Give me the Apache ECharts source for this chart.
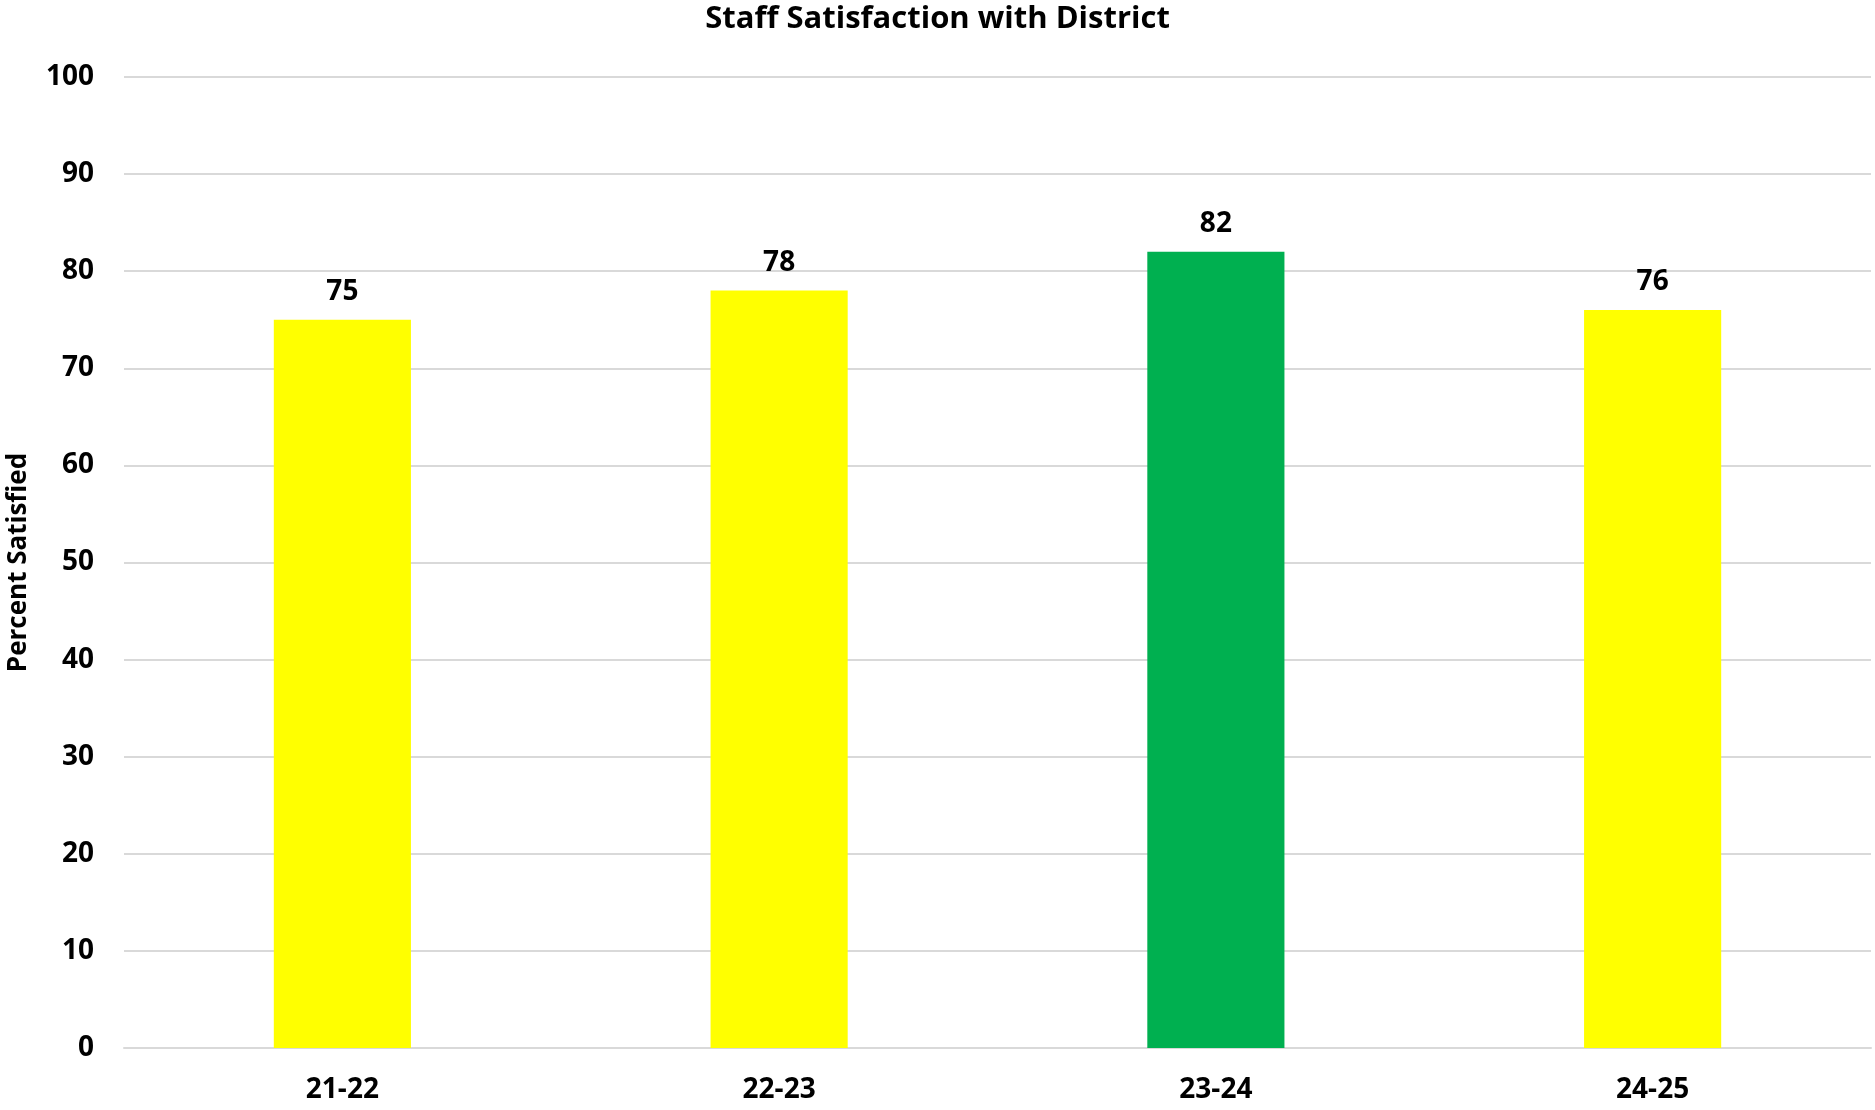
<!DOCTYPE html>
<html><head><meta charset="utf-8">
<script src="https://cdn.jsdelivr.net/npm/echarts@6/dist/echarts.min.js"></script>
<style>html,body{margin:0;padding:0;background:#fff}#c{width:1875px;height:1110px}</style>
</head><body><div id="c"></div>
<script>
const categories = ['21-22', '22-23', '23-24', '24-25'];
const values = [75, 78, 82, 76];
const barColors = ['#FFFF00', '#FFFF00', '#00B050', '#FFFF00'];
const yTicks = { min: 0, max: 100, interval: 10 };
const FONT = 'Open Sans';
const chart = echarts.init(document.getElementById('c'), null, { renderer: 'canvas' });
chart.setOption({
  animation: false,
  backgroundColor: '#fff',
  title: {
    text: 'Staff Satisfaction with District',
    left: 'center', top: -1,
    textStyle: { fontFamily: FONT, fontWeight: 'bold', fontSize: 31, color: '#000' }
  },
  grid: { left: 124, right: 4, top: 77, bottom: 62, containLabel: false, outerBoundsMode: 'none' },
  xAxis: {
    type: 'category', data: categories,
    axisLine: { show: true, lineStyle: { color: '#d9d9d9', width: 2 } },
    axisTick: { show: false },
    axisLabel: { fontFamily: FONT, fontWeight: 'bold', fontSize: 28, color: '#000', margin: 28 }
  },
  yAxis: {
    type: 'value', min: yTicks.min, max: yTicks.max, interval: yTicks.interval,
    name: 'Percent Satisfied', nameLocation: 'middle', nameGap: 92, nameRotate: 90,
    nameTextStyle: { fontFamily: FONT, fontWeight: 'bold', fontSize: 26, color: '#000' },
    axisLine: { show: false }, axisTick: { show: false },
    splitLine: { lineStyle: { color: '#d9d9d9', width: 2 } },
    axisLabel: { fontFamily: FONT, fontWeight: 'bold', fontSize: 28, color: '#000', margin: 30 }
  },
  series: [{
    type: 'bar',
    data: values.map((v, i) => ({ value: v, itemStyle: { color: barColors[i] } })),
    barWidth: '31.4%',
    label: { show: true, position: 'top', distance: 14, fontFamily: FONT, fontWeight: 'bold', fontSize: 28, color: '#000' }
  }]
});
</script></body></html>
